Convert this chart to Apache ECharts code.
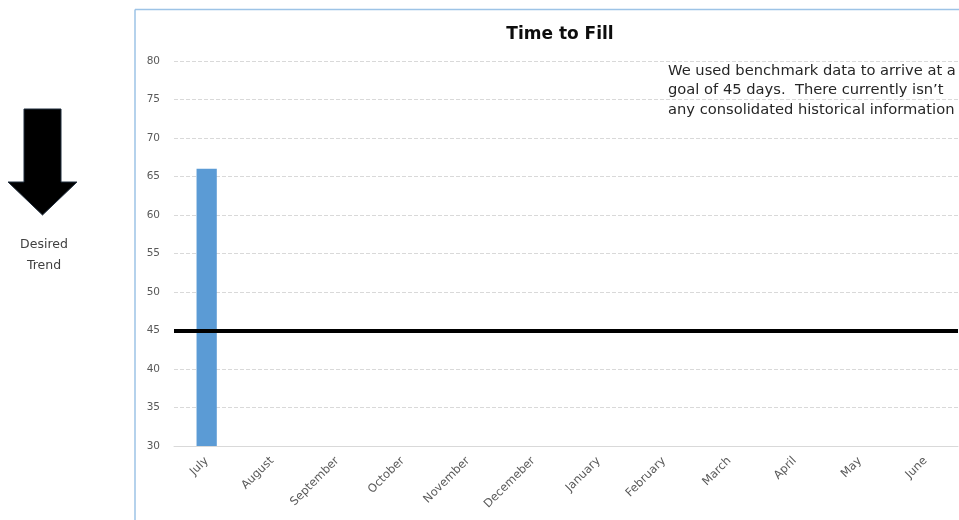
<!DOCTYPE html>
<html>
<head>
<meta charset="utf-8">
<style>
  html, body { margin: 0; padding: 0; background: #fff; }
  #chart { width: 959px; height: 520px; }
</style>
<script src="https://cdn.jsdelivr.net/npm/echarts@6/dist/echarts.min.js"></script>
</head>
<body>
<div id="chart"></div>
<script>
// Monthly time-to-fill (days) against the 45-day goal
const months = ['July', 'August', 'September', 'October', 'November', 'Decemeber',
  'January', 'February', 'March', 'April', 'May', 'June'];
const timeToFill = [66, null, null, null, null, null, null, null, null, null, null, null];
const goalDays = 45;
const yTicks = { min: 30, max: 80, interval: 5 };
const noteLines = [
  'We used benchmark data to arrive at a',
  'goal of 45 days.  There currently isn\u2019t',
  'any consolidated historical information'
];

const chart = echarts.init(document.getElementById('chart'));
const FONT = '"DejaVu Sans", sans-serif';

chart.setOption({
  animation: false,
  textStyle: { fontFamily: FONT },
  title: {
    text: 'Time to Fill',
    left: 555,
    top: 21,
    textAlign: 'center',
    textStyle: { fontSize: 17, fontWeight: 'bold', color: '#0d0d0d', fontFamily: FONT }
  },
  grid: { left: 174, right: 1, top: 61, bottom: 74, containLabel: false },
  xAxis: {
    type: 'category',
    data: months,
    axisLine: { show: true, lineStyle: { color: '#d9d9d9', width: 1 } },
    axisTick: { show: false },
    axisLabel: { rotate: 45, color: '#595959', fontSize: 11.5, margin: 13, interval: 0, fontFamily: FONT }
  },
  yAxis: {
    type: 'value',
    min: yTicks.min,
    max: yTicks.max,
    interval: yTicks.interval,
    axisLine: { show: false },
    axisTick: { show: false },
    axisLabel: { color: '#595959', fontSize: 10.5, margin: 14, fontFamily: FONT },
    splitLine: { lineStyle: { color: '#d9d9d9', type: 'dashed', width: 1 } }
  },
  series: [{
    type: 'bar',
    data: timeToFill,
    barWidth: '31%',
    itemStyle: { color: '#5b9bd5' },
    markLine: {
      silent: true,
      symbol: ['none', 'none'],
      label: { show: false },
      lineStyle: { color: '#000', width: 4, type: 'solid' },
      data: [{ yAxis: goalDays }]
    }
  }],
  graphic: [
    // chart frame
    { type: 'line', shape: { x1: 135, y1: 9.5, x2: 959, y2: 9.5 }, style: { stroke: '#9dc3e6', lineWidth: 1.5 } },
    { type: 'line', shape: { x1: 135, y1: 9.5, x2: 135, y2: 520 }, style: { stroke: '#9dc3e6', lineWidth: 1.5 } },
    // annotation
    {
      type: 'text', x: 668, y: 61,
      style: { text: noteLines.join('\n'), fontSize: 14.7, lineHeight: 19.5, fill: '#262626', fontFamily: FONT }
    },
    // desired trend arrow
    {
      type: 'polygon',
      shape: { points: [[24, 109], [61, 109], [61, 182], [77, 182], [42.5, 215], [8, 182], [24, 182]] },
      style: { fill: '#000', stroke: '#1f2d3d', lineWidth: 1 }
    },
    {
      type: 'text', x: 44, y: 234,
      style: { text: 'Desired\nTrend', fontSize: 12.5, lineHeight: 21, fill: '#404040', align: 'center', fontFamily: FONT }
    }
  ]
});
</script>
</body>
</html>
